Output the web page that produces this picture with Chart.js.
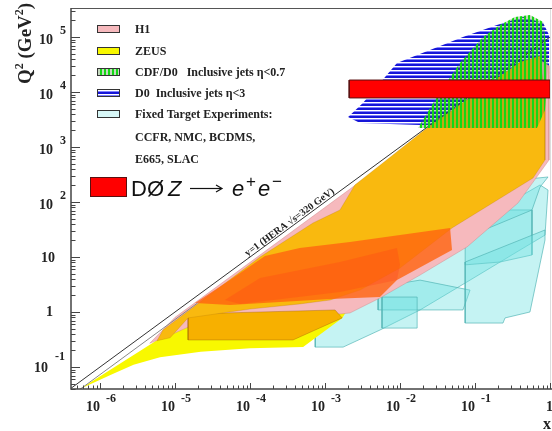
<!DOCTYPE html>
<html>
<head>
<meta charset="utf-8">
<script src="https://cdn.jsdelivr.net/npm/chart.js@4/dist/chart.umd.min.js"></script>
<style>
  html, body { margin: 0; padding: 0; background: #fff; }
  #c { display: block; }
</style>
</head>
<body>
<canvas id="c" width="552" height="431"></canvas>
<script>
// axis ranges: Bjorken x and Q^2 (GeV^2)
const xRange = [4.1e-7, 1.03];
const q2Range = [0.0398, 3.23e5];
const xTickExp = [-6, -5, -4, -3, -2, -1, 0];
const q2TickExp = [-1, 0, 1, 2, 3, 4, 5];

// kinematic limit y=1 at HERA
const heraLimit = [[4.1e-7, 0.041], [1, 1e5]];
const heraLimitInner = [[4.4e-7, 0.032], [2e-5, 1.46]];

// fixed target experiments, [x, Q2]
const fixedTargetBand = [[7.4e-4, 0.23], [1.74e-3, 0.23], [5.4e-3, 0.47], [0.0185, 1.09], [0.0858, 3.8], [0.398, 13.4], [0.857, 25], [0.94, 165], [0.736, 204], [0.0858, 38], [0.0185, 10.9], [5.4e-3, 3.8], [1.58e-3, 1.65], [7.4e-4, 0.78]];
const fixedTargetBox1 = [[5.1e-3, 2.85], [5.1e-3, 1.09], [0.069, 1.09], [0.0858, 2.5], [0.0185, 3.8]];
const fixedTargetBox2 = [[5.75e-3, 1.87], [5.75e-3, 0.51], [0.0169, 0.51], [0.0169, 1.87]];
const fixedTargetBox3 = [[0.0738, 71.6], [0.575, 71.6], [0.575, 10.9], [0.215, 8.1], [0.0738, 7.2]];
const fixedTargetLow = [[0.0738, 8.1], [0.0738, 0.63], [0.236, 0.63], [0.251, 0.78], [0.54, 1.0], [0.857, 20.4], [0.857, 31]];
const fixedTargetTop = [[0.063, 20.4], [0.575, 71.6], [0.736, 187], [0.94, 285], [0.374, 251], [0.063, 58]];

// ZEUS
const zeusRegion = [[5.4e-7, 0.04], [1.4e-6, 0.072], [2.8e-6, 0.11], [6.3e-6, 0.15], [2.2e-5, 0.19], [1e-4, 0.22], [5.1e-4, 0.23], [1.7e-3, 0.78], [2.9e-3, 2.5], [1e-2, 50], [2.2e-3, 150], [1.2e-3, 80], [1e-4, 5], [5.8e-6, 0.31]];

// H1 and the H1/ZEUS overlap
const h1Region = [[4.6e-6, 0.27], [1e-5, 0.8], [1e-4, 8], [1e-3, 80], [1e-2, 800], [0.1, 8000], [0.3, 2.4e4], [0.7, 4e4], [0.97, 3e4], [0.97, 580], [0.374, 96], [0.078, 15.2], [0.0185, 4.7], [5.4e-3, 1.8], [2.15e-3, 0.96], [4.6e-4, 0.78], [1e-4, 0.72], [2.15e-5, 0.66], [8.6e-6, 0.38]];
const overlapMain = [[5.75e-6, 0.30], [6.9e-6, 0.47], [1.36e-4, 10], [6.9e-4, 41.5], [1.58e-3, 71.6], [2.5e-3, 204], [5.9e-3, 512], [0.0229, 2215], [0.398, 3.5e4], [0.736, 4.5e4], [0.857, 7160], [0.857, 580], [0.593, 273], [0.0493, 33.7], [0.01, 6.3], [2.93e-3, 2.5], [1.17e-3, 1.65], [4.6e-4, 1.4], [1e-4, 1.13], [1.49e-5, 0.78], [8.6e-6, 0.34]];
const overlapLow = [[1.49e-5, 0.92], [1.49e-5, 0.31], [3.74e-4, 0.31], [1.69e-3, 0.78], [1.36e-3, 1.09]];
const h1Dense = [[1.85e-5, 1.46], [5.4e-5, 3.8], [1.58e-4, 10.4], [4.6e-4, 14.6], [2.15e-3, 18.7], [0.0465, 33.7], [0.0493, 13.4], [9.1e-3, 3.8], [5.4e-3, 1.87], [1.17e-3, 1.72], [5.4e-5, 1.34]];
const h1Core = [[4.6e-5, 1.65], [1.36e-4, 4.15], [1.58e-3, 8.1], [9.1e-3, 14.6], [0.01, 7.2], [9.1e-3, 3.8], [1.58e-3, 2.3], [7.4e-5, 1.4]];

// Tevatron jets
const d0Jets = [[2.03e-3, 3510], [3.2e-3, 6310], [9.1e-3, 3.37e4], [0.0251, 5.8e4], [0.069, 1e5], [0.196, 1.65e5], [0.44, 2.31e5], [0.81, 1.8e5], [0.97, 1.09e5], [0.97, 7160], [0.398, 3820], [0.117, 2510], [0.0185, 2510], [2.93e-3, 2730]];
const cdfJets = [[0.0174, 2215], [0.0267, 5800], [0.0398, 1.34e4], [0.063, 3.37e4], [0.128, 1e5], [0.215, 1.65e5], [0.341, 2.31e5], [0.54, 2.5e5], [0.81, 1.87e5], [0.94, 3.8e4], [0.857, 4710], [0.67, 2215]];

// D0 Z -> ee
const d0ZBox = [[2.1e-3, 7800], [1, 7800], [1, 16500], [2.1e-3, 16500]];

const legendLabels = ['H1', 'ZEUS', 'CDF/D0   Inclusive jets \u03b7<0.7', 'D0  Inclusive jets \u03b7<3', 'Fixed Target Experiments:'];
const legendNotes = ['CCFR, NMC, BCDMS,', 'E665, SLAC'];

const SERIF = '"Liberation Serif", "DejaVu Serif", serif';
const SANS = '"Liberation Sans", Arial, sans-serif';

function makePattern(w, h, paint) {
  const c = document.createElement('canvas');
  c.width = w; c.height = h;
  const g = c.getContext('2d');
  paint(g);
  return g.createPattern(c, 'repeat');
}
const blueHatch = makePattern(4, 4, g => {
  g.fillStyle = '#1616d8'; g.fillRect(0, 0, 4, 2);
  g.fillStyle = '#ffffff'; g.fillRect(0, 2, 4, 1);
  g.fillStyle = '#8080ff'; g.fillRect(0, 3, 4, 1);
});
const greenHatch = makePattern(4, 4, g => {
  g.fillStyle = '#14d814'; g.fillRect(0, 0, 2, 4);
  g.fillStyle = 'rgba(60,130,40,0.3)'; g.fillRect(2, 0, 2, 4);
});

const colors = {
  cyanFill: 'rgba(110,225,225,0.4)', cyanLine: 'rgba(80,180,180,0.85)',
  yellow: '#f8f800', pink: '#f6b9bd', orange: '#f9b90f', orangeLow: '#f7b000',
  dense: 'rgba(255,100,15,0.8)', core: 'rgba(255,60,25,0.28)', redBox: '#ff0000'
};

function poly(label, pts, fill, line, width, order) {
  return {
    label, order, showLine: true, fill: 'shape', tension: 0,
    data: pts.concat([pts[0]]).map(p => ({ x: p[0], y: p[1] })),
    backgroundColor: fill, borderColor: line, borderWidth: width,
    pointRadius: 0
  };
}
function path(label, pts, line, width, order) {
  return {
    label, order, showLine: true, fill: false, tension: 0,
    data: pts.map(p => ({ x: p[0], y: p[1] })),
    borderColor: line, borderWidth: width, pointRadius: 0
  };
}

const datasets = [
  poly('FT band', fixedTargetBand, colors.cyanFill, colors.cyanLine, 0.8, 30),
  poly('FT box1', fixedTargetBox1, colors.cyanFill, colors.cyanLine, 0.8, 29),
  poly('FT box2', fixedTargetBox2, colors.cyanFill, colors.cyanLine, 0.8, 28),
  poly('FT box3', fixedTargetBox3, colors.cyanFill, colors.cyanLine, 0.8, 27),
  poly('FT low', fixedTargetLow, colors.cyanFill, colors.cyanLine, 0.8, 26),
  poly('FT top', fixedTargetTop, colors.cyanFill, colors.cyanLine, 0.8, 25),
  poly('ZEUS', zeusRegion, colors.yellow, 'rgba(0,0,0,0)', 0, 20),
  poly('D0 jets', d0Jets, blueHatch, 'rgba(0,0,0,0)', 0, 19),
  poly('H1', h1Region, colors.pink, 'rgba(200,120,120,0.6)', 0.6, 18),
  poly('overlap low', overlapLow, colors.orangeLow, 'rgba(150,90,0,0.6)', 0.6, 17),
  poly('overlap', overlapMain, colors.orange, 'rgba(170,110,0,0.4)', 0.6, 16),
  poly('H1 dense', h1Dense, colors.dense, 'rgba(0,0,0,0)', 0, 15),
  poly('H1 core', h1Core, colors.core, 'rgba(0,0,0,0)', 0, 14),
  path('y=1 inner', heraLimitInner, '#888', 1, 13),
  path('y=1', heraLimit, '#333', 1, 12),
  poly('CDF jets', cdfJets, greenHatch, 'rgba(0,0,0,0)', 0, 11),
  poly('D0 Z', d0ZBox, colors.redBox, '#5a1010', 1, 10)
];

function rich(ctx, parts, x, y) {
  let cx = x;
  for (const [t, f, dy] of parts) {
    ctx.font = f;
    ctx.fillText(t, cx, y + (dy || 0));
    cx += ctx.measureText(t).width;
  }
  return cx - x;
}

const decor = {
  id: 'decor',
  beforeDraw(chart) {
    const c = chart.ctx;
    c.save(); c.fillStyle = '#fff'; c.fillRect(0, 0, chart.width, chart.height); c.restore();
  },
  afterDatasetsDraw(chart) {
    const c = chart.ctx, xs = chart.scales.x, ys = chart.scales.y;
    // label along the kinematic limit
    const x1 = xs.getPixelForValue(1e-4), y1 = ys.getPixelForValue(10);
    const x2 = xs.getPixelForValue(1e-3), y2 = ys.getPixelForValue(100);
    const ang = Math.atan2(y2 - y1, x2 - x1);
    const px = xs.getPixelForValue(0.9e-4), py = ys.getPixelForValue(1.0e5 * 0.9e-4);
    c.save();
    c.translate(px + 1, py - 3);
    c.rotate(ang);
    c.fillStyle = '#222';
    c.font = 'bold 10px ' + SERIF;
    c.textBaseline = 'alphabetic';
    c.fillText('y=1 (HERA \u221as=320 GeV)', 0, 0);
    c.restore();
  },
  afterDraw(chart) {
    const c = chart.ctx, xs = chart.scales.x, ys = chart.scales.y, a = chart.chartArea;
    c.save();
    // frame
    c.strokeStyle = '#555'; c.lineWidth = 1;
    c.beginPath(); c.moveTo(a.left, a.top - 0.5); c.lineTo(chart.width, a.top - 0.5); c.stroke();
    c.strokeStyle = '#ddd';
    c.beginPath(); c.moveTo(550.5, a.top); c.lineTo(550.5, a.bottom); c.stroke();
    c.strokeStyle = '#444'; c.lineWidth = 1.5;
    c.beginPath(); c.moveTo(a.left, a.top - 1); c.lineTo(a.left, a.bottom); c.lineTo(chart.width, a.bottom); c.stroke();
    // ticks
    c.lineWidth = 1; c.strokeStyle = '#444';
    c.beginPath();
    for (let e = -7; e <= 0; e++) {
      for (let k = 1; k <= 9; k++) {
        const v = k * Math.pow(10, e);
        if (v < xRange[0] || v > xRange[1]) continue;
        const p = Math.round(xs.getPixelForValue(v)) + 0.5;
        const len = k === 1 ? 6 : 3.5;
        c.moveTo(p, a.bottom); c.lineTo(p, a.bottom - len);
      }
    }
    for (let e = -2; e <= 5; e++) {
      for (let k = 1; k <= 9; k++) {
        const v = k * Math.pow(10, e);
        if (v < q2Range[0] || v > q2Range[1]) continue;
        const p = Math.round(ys.getPixelForValue(v)) + 0.5;
        const len = k === 1 ? 9 : 4.5;
        c.moveTo(a.left, p); c.lineTo(a.left + len, p);
      }
    }
    c.stroke();

    // tick labels
    c.fillStyle = '#222';
    c.textBaseline = 'alphabetic';
    const big = 'bold 14px ' + SERIF, small = 'bold 12px ' + SERIF;
    for (const e of q2TickExp) {
      const p = ys.getPixelForValue(Math.pow(10, e));
      c.font = big; c.textAlign = 'right';
      if (e === 0) { c.fillText('1', 53, p + 4); }
      else if (e === 1) { c.fillText('10', 55, p + 5); }
      else if (e === -1) {
        c.fillText('10', 48, p + 5);
        c.font = small; c.textAlign = 'left'; c.fillText('-1', 55, p - 7);
      } else {
        c.fillText('10', 53, p + 7);
        c.font = small; c.textAlign = 'left'; c.fillText(String(e), 60, p - 3);
      }
    }
    for (const e of xTickExp) {
      const p = xs.getPixelForValue(Math.pow(10, e));
      c.font = big;
      if (e === 0) { c.textAlign = 'left'; c.fillText('1', 546, 411); continue; }
      c.textAlign = 'right'; c.fillText('10', p, 411);
      c.font = small; c.textAlign = 'left'; c.fillText(String(e), p + 6, 402);
    }

    // axis titles
    c.textAlign = 'left';
    c.font = 'bold 16px ' + SERIF;
    c.fillText('x', 543, 429);
    c.save();
    c.translate(31, 84);
    c.rotate(-Math.PI / 2);
    const tb = 'bold 19px ' + SERIF, ts = 'bold 12px ' + SERIF;
    rich(c, [['Q', tb], ['2', ts, -8], [' (GeV', tb], ['2', ts, -8], [')', tb]], 0, 0);
    c.restore();

    // legend
    const swatches = [colors.pink, colors.yellow, greenHatch, blueHatch, '#d8f8f8'];
    const rowY = [29, 51, 72, 93, 114];
    c.font = 'bold 12px ' + SERIF;
    legendLabels.forEach((t, i) => {
      c.fillStyle = swatches[i];
      c.fillRect(97, rowY[i] - 4, 23, 8);
      c.strokeStyle = '#333'; c.lineWidth = 1;
      c.strokeRect(97.5, rowY[i] - 3.5, 22, 7);
      c.fillStyle = '#222';
      c.fillText(t, 135, rowY[i] + 4);
    });
    legendNotes.forEach((t, i) => { c.fillText(t, 135, 141 + i * 22); });
    c.fillStyle = colors.redBox;
    c.fillRect(90, 177, 37, 20);
    c.strokeStyle = '#5a1010'; c.strokeRect(90.5, 177.5, 36, 19);
    // D0 Z -> e+e- label
    c.fillStyle = '#111';
    const reg = '22px ' + SANS, ita = 'italic 22px ' + SANS, sup = '17px ' + SANS;
    c.font = reg; c.fillText('D\u00d8', 131, 196);
    c.font = ita; c.fillText('Z', 168, 196);
    c.strokeStyle = '#111'; c.lineWidth = 1.2;
    c.beginPath(); c.moveTo(190, 188.5); c.lineTo(221, 188.5); c.stroke();
    c.beginPath(); c.moveTo(216, 185); c.lineTo(222, 188.5); c.lineTo(216, 192); c.stroke();
    c.font = ita; c.fillText('e', 232, 196);
    c.font = sup; c.fillText('+', 246, 187);
    c.font = ita; c.fillText('e', 258, 196);
    c.font = sup; c.fillText('\u2212', 272, 187);
    c.restore();
  }
};

new Chart(document.getElementById('c'), {
  type: 'scatter',
  data: { datasets },
  options: {
    responsive: false,
    animation: false,
    events: [],
    layout: { padding: { left: 71, right: 1, top: 9, bottom: 42 } },
    plugins: { legend: { display: false }, tooltip: { enabled: false } },
    scales: {
      x: { type: 'logarithmic', min: xRange[0], max: xRange[1], display: false },
      y: { type: 'logarithmic', min: q2Range[0], max: q2Range[1], display: false }
    }
  },
  plugins: [decor]
});
</script>
</body>
</html>
